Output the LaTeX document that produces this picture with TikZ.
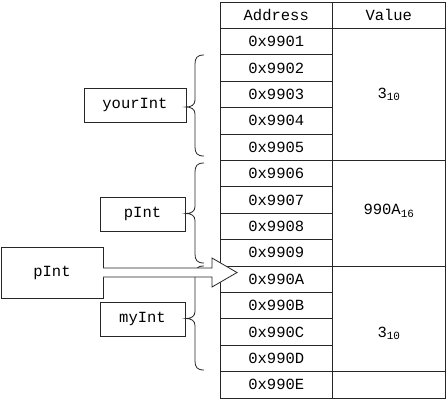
\documentclass[tikz,border=0pt]{standalone}
\usepackage{fontspec}
\setmonofont{Liberation Mono}
\newcommand\subsc[1]{\raisebox{-2.5pt}{\fontsize{11}{11}\selectfont #1}}
\begin{document}
\begin{tikzpicture}[x=1pt,y=-1pt,line width=0.8pt,
  every node/.style={font=\ttfamily\fontsize{15.5}{16}\selectfont},
  cell/.style={draw=black!85,inner sep=0,outer sep=0,minimum width=112.5pt,minimum height=26.4pt},
  vcell/.style={draw=black!85,inner sep=0,outer sep=0,minimum width=112.5pt},
  lbl/.style={draw=black!85,inner sep=0,outer sep=0},
  brc/.style={draw=black!85,line width=0.8pt}]
\useasboundingbox (0,0) rectangle (446,400);
% header
\node[cell] (hA) at (276.25,15.2) {Address};
\node[cell] (hV) at (388.75,15.2) {Value};
% address cells
\foreach \i/\t in {1/0x9901,2/0x9902,3/0x9903,4/0x9904,5/0x9905,6/0x9906,7/0x9907,8/0x9908,9/0x9909,10/0x990A,11/0x990B,12/0x990C,13/0x990D,14/0x990E}
  \node[cell] (a\i) at (276.25,{2+26.4*\i+13.2}) {\t};
% value cells
\node[vcell,minimum height=132pt] (v1) at (388.75,94.4) {};
\node[vcell,minimum height=105.6pt] (v2) at (388.75,213.2) {};
\node[vcell,minimum height=105.6pt] (v3) at (388.75,318.8) {};
\node[vcell,minimum height=26.4pt] (v4) at (388.75,384.8) {};
\node (t1) at (388.75,94.4) {3\subsc{10}};
\node (t2) at (388.75,211) {990A\subsc{16}};
\node (t3) at (388.75,333.5) {3\subsc{10}};
% label boxes
\node[lbl,minimum width=102pt,minimum height=34pt] (your) at (135,105) {yourInt};
\node[lbl,minimum width=85pt,minimum height=34pt] (pint) at (142.5,214) {pInt};
\node[lbl,minimum width=85pt,minimum height=34pt] (my) at (142.5,319) {myInt};
\node[lbl,minimum width=102pt,minimum height=51pt,fill=white] (ptr) at (52,272.5) {pInt};
% braces
\foreach \t/\m/\b in {55/107/156, 163/213.5/263, 266/318.5/370}
  \draw[brc] (204,\t) .. controls (197,\t) and (195,\t+3) .. (195,\t+9)
    -- (195,\m-7) .. controls (195,\m-2) and (191,\m) .. (186,\m)
    .. controls (191,\m) and (195,\m+2) .. (195,\m+7)
    -- (195,\b-9) .. controls (195,\b-3) and (197,\b) .. (204,\b);
% hollow arrow from pointer to 0x990A
\coordinate (s1) at (ptr.east |- 0,268);
\coordinate (s2) at (ptr.east |- 0,277);
\coordinate (tip) at (237,272.5);
\fill[white] ([xshift=-1pt]s1) -- (212,268) -- (212,258) -- (tip) -- (212,287) -- (212,277) -- ([xshift=-1pt]s2) -- cycle;
\draw[draw=black!85,line join=miter] (s1) -- (212,268) -- (212,258) -- (tip) -- (212,287) -- (212,277) -- (s2);
\end{tikzpicture}
\end{document}
